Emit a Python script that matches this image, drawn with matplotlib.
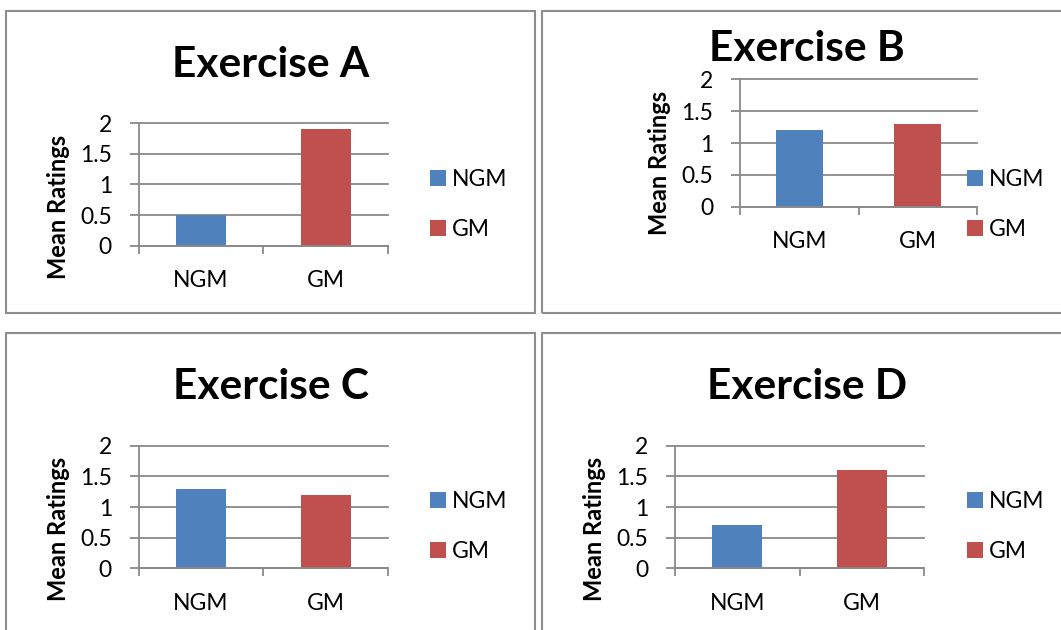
import matplotlib
matplotlib.use("Agg")
import matplotlib.pyplot as plt
from matplotlib.patches import Rectangle, Patch
from matplotlib.ticker import FixedLocator

W, H, DPI = 1061, 630, 100

# ---- data ----
categories = ["NGM", "GM"]
exercise_titles = ["Exercise A", "Exercise B", "Exercise C", "Exercise D"]
ngm_means = [0.5, 1.2, 1.3, 0.7]
gm_means = [1.9, 1.3, 1.2, 1.6]
y_ticks = [0, 0.5, 1, 1.5, 2]
y_tick_labels = ["0", "0.5", "1", "1.5", "2"]
y_label = "Mean Ratings"

bar_colors = ["#4F81BD", "#C0504D"]
axis_grey = "#8A8A8A"
frame_grey = "#8E8E8E"

plt.rcParams['font.family'] = ['Lato', 'DejaVu Sans']

fig = plt.figure(figsize=(W / DPI, H / DPI), dpi=DPI)
fig.patch.set_facecolor("white")


def fx(px):
    return px / W


def fy(py):
    return 1 - py / H


# pixel layout of each chart box (top-left origin)
panels = [
    dict(frame=(6, 11, 535, 312.7), axes=(138.8, 123, 388, 246),
         title=(271, 77), ylabel=(65.5, 207), legend=(430, 204.5)),
    dict(frame=(542, 11, 1075, 312.7), axes=(740, 79, 977, 207),
         title=(807, 61), ylabel=(667, 162.8), legend=(967, 204.5)),
    dict(frame=(6, 332.7, 535, 660), axes=(138.8, 445.7, 388, 568.3),
         title=(271, 399.3), ylabel=(65.5, 529), legend=(430, 526.5)),
    dict(frame=(542, 332.7, 1075, 660), axes=(675, 445.7, 924, 568.3),
         title=(807, 399), ylabel=(602, 529), legend=(967, 526.5)),
]

TICK_FS = 16.5
TITLE_FS = 30.5
YLABEL_FS = 17

for i, p in enumerate(panels):
    # chart box outline
    x0, y0, x1, y1 = p["frame"]
    fig.patches.append(Rectangle((fx(x0), fy(y1)), fx(x1 - x0), (y1 - y0) / H,
                                 transform=fig.transFigure, fill=False,
                                 edgecolor=frame_grey, linewidth=1.5, zorder=0))

    ax_l, ax_t, ax_r, ax_b = p["axes"]
    ax = fig.add_axes([fx(ax_l), fy(ax_b), fx(ax_r - ax_l), (ax_b - ax_t) / H])
    ax.set_facecolor("none")

    xs = list(range(len(categories)))
    values = [ngm_means[i], gm_means[i]]
    ax.bar(xs, values, width=0.4, color=bar_colors, zorder=3)

    ax.set_xlim(-0.5, len(categories) - 0.5)
    ax.set_ylim(0, 2)

    # y axis: ticks outside, horizontal gridlines
    ax.set_yticks(y_ticks)
    ax.set_yticklabels(y_tick_labels)
    ax.tick_params(axis="y", direction="out", length=6.3, width=1.3,
                   color=axis_grey, pad=13, labelsize=TICK_FS, labelcolor="black")
    ax.yaxis.grid(True, color=axis_grey, linewidth=1.3)
    ax.set_axisbelow(True)
    for gl in ax.get_ygridlines():
        gl.set_clip_on(False)

    # x axis: labels at category centres, tick marks between categories
    ax.set_xticks(xs)
    ax.set_xticklabels(categories)
    ax.xaxis.set_minor_locator(FixedLocator([-0.5, 0.5, 1.5]))
    ax.tick_params(axis="x", which="major", length=0, pad=17.5,
                   labelsize=TICK_FS, labelcolor="black")
    ax.tick_params(axis="x", which="minor", direction="out", length=6,
                   width=1.3, color=axis_grey)

    for side in ("top", "right"):
        ax.spines[side].set_visible(False)
    for side in ("left", "bottom"):
        ax.spines[side].set_color(axis_grey)
        ax.spines[side].set_linewidth(1.3)
        ax.spines[side].set_zorder(4)

    # title and y-axis caption
    tx, ty = p["title"]
    fig.text(fx(tx), fy(ty), exercise_titles[i], ha="center", va="baseline",
             fontsize=TITLE_FS, fontweight="bold")
    lx, ly = p["ylabel"]
    fig.text(fx(lx), fy(ly), y_label, rotation=90, rotation_mode="anchor",
             ha="center", va="baseline", fontsize=YLABEL_FS, fontweight="bold")

    # legend
    handles = [Patch(facecolor=c, edgecolor="none") for c in bar_colors]
    gx, gy = p["legend"]
    fig.legend(handles, categories, loc="center left",
               bbox_to_anchor=(fx(gx), fy(gy)), bbox_transform=fig.transFigure,
               frameon=False, fontsize=TICK_FS, handlelength=0.7,
               handleheight=0.7, handletextpad=0.25, labelspacing=1.3,
               borderpad=0, borderaxespad=0)

fig.savefig("out.png", dpi=DPI, facecolor="white")
